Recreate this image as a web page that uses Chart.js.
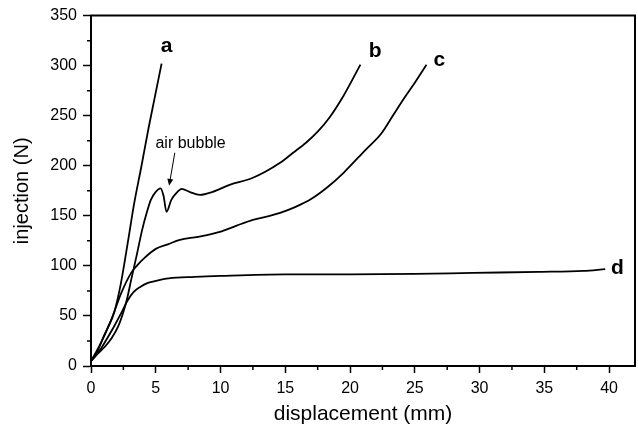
<!DOCTYPE html>
<html>
<head>
<meta charset="utf-8">
<script src="https://cdn.jsdelivr.net/npm/chart.js@4"></script>
<style>
  html, body { margin: 0; padding: 0; background: #fff; }
</style>
</head>
<body>
<canvas id="chart" width="638" height="429"></canvas>
<script>
// displacement (mm) / injection force (N)
const dispA = [0, 0.4, 0.8, 1.3, 1.8, 2.3, 2.9, 3.3, 3.9, 4.45, 4.95, 5.45];
const loadA = [5, 14, 24, 38, 54, 82, 128, 160, 200, 238, 270, 302];

const dispB = [0, 0.5, 1.05, 1.6, 2.08, 2.5, 2.8, 3.1, 3.5, 3.95, 4.3, 4.62, 5.0, 5.37, 5.6, 5.83, 6.2, 6.6, 7.0, 7.6, 8.4, 9.4, 10.7, 12.5, 14.6, 15.6, 16.6, 17.5, 18.4, 19.5, 20.8];
const loadB = [5, 12, 19, 28, 39, 54, 68, 86, 109, 136, 153, 166, 174, 177.5, 170, 154, 166, 173, 177, 174, 171, 174, 181, 188, 203, 213, 223, 234, 248, 270, 301];

const dispC = [0, 0.54, 1.0, 1.56, 2.34, 3.1, 3.6, 4.13, 5.0, 5.93, 6.86, 8.25, 9.94, 11.2, 12.5, 13.8, 14.6, 15.8, 16.9, 18.2, 19.5, 21.2, 22.4, 23.3, 24.2, 25.0, 25.9];
const loadC = [5, 16, 30, 46, 73, 93, 101, 108, 117, 121.5, 126, 129, 134, 140, 146, 150, 153, 159, 166, 178, 193, 216, 232, 250, 268, 283, 301];

const dispD = [0, 0.28, 0.8, 1.31, 1.8, 2.34, 2.8, 3.3, 3.8, 4.4, 5.0, 6.0, 8.0, 10.0, 15.0, 20.0, 25.0, 29.5, 34.6, 38.0, 39.7];
const loadD = [5, 9, 18, 29, 40, 53, 65, 74, 79, 83, 85, 87.5, 89, 90, 91.5, 91.5, 92, 93, 94, 95, 96.7];

const xTicks = [0, 5, 10, 15, 20, 25, 30, 35, 40];
const xMinor = [2.5, 7.5, 12.5, 17.5, 22.5, 27.5, 32.5, 37.5];
const yMinor = [25, 75, 125, 175, 225, 275, 325];

const curveNames = ['a', 'b', 'c', 'd'];
const nameX = [5.83, 21.94, 26.9, 40.64];
const nameY = [314, 309, 300, 92];

const noteText = 'air bubble';
const notePos = [7.69, 218];
const arrowFrom = [6.47, 213];
const arrowTo = [6.03, 180];

const FONT = '"Liberation Sans", Arial, Helvetica, sans-serif';

function toPoints(xs, ys) {
    return xs.map((v, i) => ({ x: v, y: ys[i] }));
}

function curve(xs, ys) {
    return {
        data: toPoints(xs, ys),
        borderColor: '#000',
        borderWidth: 1.8,
        pointRadius: 0,
        showLine: true,
        fill: false,
        cubicInterpolationMode: 'monotone'
    };
}

const decor = {
    id: 'decor',
    afterDraw(chart) {
        const { ctx, chartArea: ca, scales: { x, y } } = chart;
        ctx.save();
        ctx.strokeStyle = '#000';
        ctx.fillStyle = '#000';

        // box frame, top and right sides
        ctx.lineWidth = 2;
        ctx.beginPath();
        ctx.moveTo(ca.left - 1, ca.top);
        ctx.lineTo(ca.right, ca.top);
        ctx.lineTo(ca.right, ca.bottom + 1);
        ctx.stroke();

        // minor ticks
        ctx.lineWidth = 1.5;
        ctx.beginPath();
        xMinor.forEach(v => {
            const px = x.getPixelForValue(v);
            ctx.moveTo(px, ca.bottom);
            ctx.lineTo(px, ca.bottom + 4);
        });
        yMinor.forEach(v => {
            const py = y.getPixelForValue(v);
            ctx.moveTo(ca.left, py);
            ctx.lineTo(ca.left - 4, py);
        });
        ctx.stroke();

        // curve names
        ctx.font = 'bold 21px ' + FONT;
        ctx.textAlign = 'center';
        ctx.textBaseline = 'alphabetic';
        curveNames.forEach((n, i) => {
            ctx.fillText(n, x.getPixelForValue(nameX[i]), y.getPixelForValue(nameY[i]));
        });

        // air bubble note with arrow
        ctx.font = '16px ' + FONT;
        ctx.fillText(noteText, x.getPixelForValue(notePos[0]), y.getPixelForValue(notePos[1]));

        const x0 = x.getPixelForValue(arrowFrom[0]), y0 = y.getPixelForValue(arrowFrom[1]);
        const x1 = x.getPixelForValue(arrowTo[0]), y1 = y.getPixelForValue(arrowTo[1]);
        const ang = Math.atan2(y1 - y0, x1 - x0);
        ctx.lineWidth = 1;
        ctx.beginPath();
        ctx.moveTo(x0, y0);
        ctx.lineTo(x1 - 5 * Math.cos(ang), y1 - 5 * Math.sin(ang));
        ctx.stroke();
        ctx.beginPath();
        ctx.moveTo(x1, y1);
        ctx.lineTo(x1 - 7 * Math.cos(ang) + 3 * Math.sin(ang), y1 - 7 * Math.sin(ang) - 3 * Math.cos(ang));
        ctx.lineTo(x1 - 7 * Math.cos(ang) - 3 * Math.sin(ang), y1 - 7 * Math.sin(ang) + 3 * Math.cos(ang));
        ctx.closePath();
        ctx.fill();

        ctx.restore();
    }
};

const ctx = document.getElementById('chart').getContext('2d');
const chart = new Chart(ctx, {
    type: 'scatter',
    data: {
        datasets: [
            curve(dispA, loadA),
            curve(dispB, loadB),
            curve(dispC, loadC),
            curve(dispD, loadD)
        ]
    },
    options: {
        responsive: false,
        animation: false,
        layout: { padding: { left: 0, right: 3, top: 15, bottom: 0 } },
        plugins: {
            legend: { display: false },
            tooltip: { enabled: false }
        },
        scales: {
            x: {
                type: 'linear',
                min: 0,
                max: 42,
                afterBuildTicks: scale => {
                    scale.ticks = xTicks.map(v => ({ value: v }));
                },
                afterFit: scale => { scale.height = 63; },
                ticks: {
                    color: '#000',
                    font: { family: FONT, size: 16 },
                    padding: 6,
                    maxRotation: 0
                },
                grid: {
                    drawOnChartArea: false,
                    drawTicks: true,
                    tickLength: 7,
                    tickWidth: 1.5,
                    tickColor: '#000'
                },
                border: { color: '#000', width: 2 },
                title: {
                    display: true,
                    text: 'displacement (mm)',
                    color: '#000',
                    font: { family: FONT, size: 21 },
                    padding: { top: 0, bottom: 2 }
                }
            },
            y: {
                type: 'linear',
                min: 0,
                max: 350,
                afterFit: scale => { scale.width = 91; },
                ticks: {
                    stepSize: 50,
                    color: '#000',
                    font: { family: FONT, size: 16 },
                    padding: 6
                },
                grid: {
                    drawOnChartArea: false,
                    drawTicks: true,
                    tickLength: 8,
                    tickWidth: 1.5,
                    tickColor: '#000'
                },
                border: { color: '#000', width: 2 },
                title: {
                    display: true,
                    text: 'injection (N)',
                    color: '#000',
                    font: { family: FONT, size: 20 },
                    padding: { top: 10, bottom: 0 }
                }
            }
        }
    },
    plugins: [decor]
});
</script>
</body>
</html>
